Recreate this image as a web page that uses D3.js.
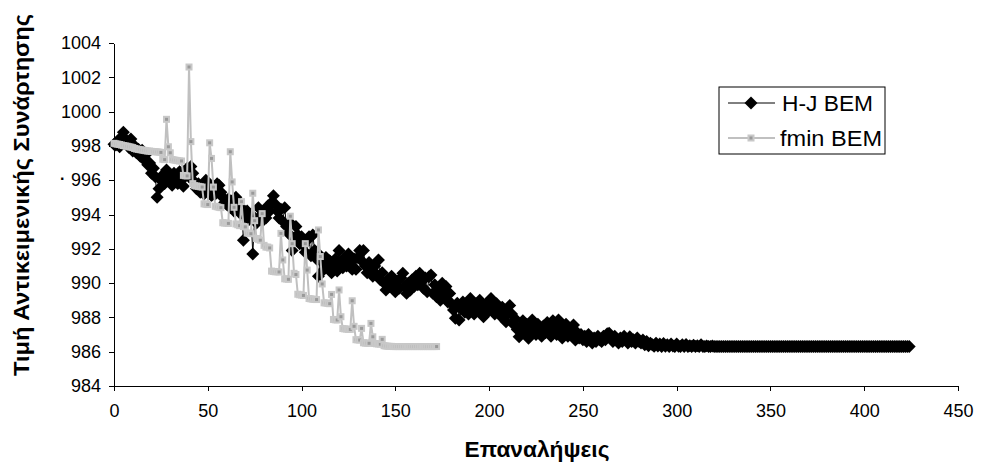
<!DOCTYPE html>
<html>
<head>
<meta charset="utf-8">
<script src="https://cdn.jsdelivr.net/npm/d3@7"></script>
<style>
  body { margin: 0; background: #fff; }
  svg { display: block; font-family: "Liberation Sans", Arial, sans-serif; }
  .tick text { font-size: 18px; fill: #000; }
  .axis path, .axis line { stroke: #000; stroke-width: 1; shape-rendering: crispEdges; }
  .title { font-weight: bold; font-size: 22px; fill: #000; }
  .legend text { font-size: 22px; fill: #000; }
</style>
</head>
<body>
<svg width="981" height="470"></svg>
<script>
var seriesNames = ["H-J BEM", "fmin BEM"];
var xTicks = [0, 50, 100, 150, 200, 250, 300, 350, 400, 450];
var yTicks = [984, 986, 988, 990, 992, 994, 996, 998, 1000, 1002, 1004];

// H-J BEM, one value per iteration (0..424)
var hjValues = [
  998.10, 998.05, 998.30, 997.95, 998.50, 998.80, 998.40, 998.20, 997.90, 998.40,
  997.70, 998.00, 997.60, 997.80, 997.40, 997.75, 997.20, 997.50, 996.90, 997.00,
  996.40, 996.70, 996.20, 995.00, 995.50, 996.00, 996.30, 995.80, 996.60, 996.20,
  995.90, 995.70, 996.40, 996.10, 995.80, 996.50, 996.00, 995.65, 996.30, 996.70,
  996.20, 996.80, 996.40, 995.90, 995.50, 995.80, 995.30, 995.60, 995.20, 996.00,
  995.40, 995.70, 995.10, 995.50, 995.20, 995.80, 995.70, 995.30, 995.00, 994.70,
  994.60, 994.90, 994.40, 994.80, 994.20, 995.00, 994.50, 994.10, 994.40, 992.50,
  993.90, 994.20, 993.70, 994.00, 991.70, 993.80, 993.50, 994.40, 993.90, 993.60,
  994.10, 993.80, 994.50, 994.20, 994.70, 995.10, 994.60, 994.20, 993.80, 994.30,
  993.60, 994.40, 993.30, 992.90, 993.50, 991.90, 992.60, 993.30, 992.80, 992.30,
  992.70, 992.20, 991.80, 992.50, 992.70, 991.60, 992.80, 991.90, 991.40, 990.40,
  991.60, 991.20, 990.80, 991.50, 990.90, 991.30, 990.60, 991.00, 991.40, 990.70,
  991.90, 991.20, 990.90, 991.50, 991.00, 991.70, 991.20, 990.80, 991.40, 990.80,
  991.50, 991.90, 991.30, 991.90, 991.00, 990.60, 991.20, 990.70, 990.40, 991.00,
  990.50, 991.35, 990.20, 990.60, 990.00, 989.60, 990.20, 989.80, 990.40, 989.90,
  989.50, 990.10, 989.70, 990.30, 990.57, 989.80, 989.40, 990.00, 989.60, 990.20,
  989.80, 990.40, 989.90, 990.57, 990.10, 989.70, 990.30, 989.50, 990.37, 990.47,
  989.40, 989.90, 989.20, 989.60, 989.00, 989.99, 989.30, 989.80, 988.90, 989.40,
  988.80, 988.43, 987.95, 988.82, 987.85, 988.50, 988.90, 988.30, 988.70, 988.20,
  989.10, 988.60, 988.20, 988.80, 988.40, 989.00, 988.50, 988.04, 988.70, 988.30,
  988.90, 989.10, 988.60, 988.20, 988.80, 988.40, 988.10, 988.60, 988.00, 987.75,
  988.30, 988.70, 988.20, 987.60, 987.90, 987.30, 986.87, 987.50, 987.80, 987.20,
  987.60, 986.78, 987.30, 987.85, 987.40, 987.00, 987.60, 987.20, 986.90, 987.50,
  987.10, 987.70, 987.30, 986.90, 987.80, 987.40, 987.00, 987.85, 987.30, 986.80,
  987.20, 987.60, 986.90, 987.30, 987.00, 987.56, 986.68, 987.10, 986.80, 987.00,
  986.70, 986.90, 986.60, 987.00, 986.70, 986.50, 986.80, 986.60, 986.90, 986.70,
  986.60, 986.90, 986.70, 987.05, 987.07, 986.80, 986.60, 986.90, 986.70, 986.50,
  986.80, 986.60, 986.90, 986.70, 986.50, 986.87, 986.60, 986.70, 986.50, 986.80,
  986.60, 986.50, 986.68, 986.40, 986.60, 986.35, 986.50, 986.40, 986.32, 986.50,
  986.33, 986.45, 986.30, 986.48, 986.32, 986.40, 986.30, 986.45, 986.33, 986.30,
  986.45, 986.32, 986.30, 986.40, 986.30, 986.42, 986.30, 986.35, 986.30, 986.38,
  986.30, 986.35, 986.30, 986.40, 986.30, 986.30, 986.34, 986.30, 986.30, 986.33,
  986.30, 986.30, 986.30, 986.30, 986.30, 986.30, 986.30, 986.30, 986.30, 986.30,
  986.30, 986.30, 986.30, 986.30, 986.30, 986.30, 986.30, 986.30, 986.30, 986.30,
  986.30, 986.30, 986.30, 986.30, 986.30, 986.30, 986.30, 986.30, 986.30, 986.30,
  986.30, 986.30, 986.30, 986.30, 986.30, 986.30, 986.30, 986.30, 986.30, 986.30,
  986.30, 986.30, 986.30, 986.30, 986.30, 986.30, 986.30, 986.30, 986.30, 986.30,
  986.30, 986.30, 986.30, 986.30, 986.30, 986.30, 986.30, 986.30, 986.30, 986.30,
  986.30, 986.30, 986.30, 986.30, 986.30, 986.30, 986.30, 986.30, 986.30, 986.30,
  986.30, 986.30, 986.30, 986.30, 986.30, 986.30, 986.30, 986.30, 986.30, 986.30,
  986.30, 986.30, 986.30, 986.30, 986.30, 986.30, 986.30, 986.30, 986.30, 986.30,
  986.30, 986.30, 986.30, 986.30, 986.30, 986.30, 986.30, 986.30, 986.30, 986.30,
  986.30, 986.30, 986.30, 986.30, 986.30
];

// fmin BEM, one value per iteration (0..172)
var fminValues = [
  998.15, 998.12, 998.10, 998.08, 998.05, 998.02, 998.00, 997.98, 997.95, 997.93,
  997.90, 997.85, 997.82, 997.80, 997.78, 997.76, 997.74, 997.72, 997.70, 997.70,
  997.68, 997.67, 997.66, 997.65, 997.64, 997.62, 997.22, 997.20, 999.55, 997.95,
  997.60, 997.20, 997.18, 997.16, 997.14, 997.12, 997.12, 996.28, 996.26, 996.25,
  1002.60, 998.25, 995.80, 995.68, 995.66, 995.64, 995.62, 995.60, 994.62, 994.60,
  994.58, 998.18, 997.27, 995.60, 994.48, 994.45, 994.42, 994.40, 993.52, 993.50,
  993.50, 993.48, 997.66, 995.90, 994.42, 993.45, 993.40, 993.35, 994.75, 993.30,
  993.28, 992.92, 992.90, 992.88, 995.24, 993.64, 992.60, 992.55, 992.50, 994.05,
  992.20, 992.10, 992.10, 992.05, 990.70, 990.68, 990.66, 990.66, 990.65, 992.90,
  991.35, 990.25, 990.24, 990.22, 993.90, 992.30, 990.57, 990.50, 989.35, 989.32,
  989.30, 989.28, 992.30, 990.76, 989.10, 989.08, 989.06, 989.05, 989.04, 993.10,
  991.55, 989.95, 988.85, 988.84, 988.82, 988.80, 989.34, 987.88, 987.86, 987.85,
  989.60, 988.04, 987.35, 987.33, 987.32, 987.30, 987.30, 988.97, 987.48, 986.70,
  986.69, 986.68, 987.36, 986.52, 986.50, 986.50, 986.49, 987.65, 986.87, 986.48,
  986.46, 986.45, 986.44, 986.72, 986.35, 986.33, 986.32, 986.31, 986.31, 986.30,
  986.30, 986.30, 986.30, 986.30, 986.30, 986.30, 986.30, 986.30, 986.30, 986.30,
  986.30, 986.30, 986.30, 986.30, 986.30, 986.30, 986.30, 986.30, 986.30, 986.30,
  986.30, 986.30, 986.30
];

var svg = d3.select("svg"),
    plot = {left: 114, right: 958, top: 43, bottom: 386};

var x = d3.scaleLinear().domain([0, 450]).range([plot.left, plot.right]);
var y = d3.scaleLinear().domain([984, 1004]).range([plot.bottom, plot.top]);

// Axes
svg.append("g")
    .attr("class", "axis")
    .attr("transform", "translate(0," + plot.bottom + ")")
    .call(d3.axisBottom(x).tickValues(xTicks).tickSize(5).tickSizeOuter(0).tickPadding(13))
    .selectAll("text").attr("dy", "0.71em");

svg.append("g")
    .attr("class", "axis")
    .attr("transform", "translate(" + plot.left + ",0)")
    .call(d3.axisLeft(y).tickValues(yTicks).tickSize(5).tickSizeOuter(0).tickPadding(8).tickFormat(d3.format("d")));

// Titles
svg.append("text")
    .attr("class", "title")
    .attr("transform", "translate(29," + 195 + ") rotate(-90)")
    .attr("text-anchor", "middle")
    .attr("textLength", 362)
    .attr("lengthAdjust", "spacingAndGlyphs")
    .text("Τιμή Αντικειμενικής Συνάρτησης");

svg.append("text")
    .attr("x", 60)
    .attr("y", 180)
    .attr("font-size", 16)
    .attr("font-weight", "bold")
    .text(".");

svg.append("text")
    .attr("class", "title")
    .attr("x", 537)
    .attr("y", 457)
    .attr("text-anchor", "middle")
    .attr("textLength", 145)
    .attr("lengthAdjust", "spacingAndGlyphs")
    .text("Επαναλήψεις");

// H-J BEM series
var seriesLine = d3.line()
    .x(function(d, i) { return x(i); })
    .y(function(d) { return y(d); });

svg.append("path")
    .datum(hjValues)
    .attr("fill", "none")
    .attr("stroke", "#000")
    .attr("stroke-width", 1)
    .attr("d", seriesLine);

var diamond = d3.symbol().type(d3.symbolSquare).size(84);

svg.append("g").selectAll("path")
    .data(hjValues)
    .join("path")
    .attr("transform", function(d, i) { return "translate(" + x(i) + "," + y(d) + ") rotate(45)"; })
    .attr("d", diamond)
    .attr("fill", "#000");

// fmin BEM series
svg.append("path")
    .datum(fminValues)
    .attr("fill", "none")
    .attr("stroke", "#c0c0c0")
    .attr("stroke-width", 2)
    .attr("d", seriesLine);

svg.append("g").selectAll("rect")
    .data(fminValues)
    .join("rect")
    .attr("x", function(d, i) { return x(i) - 2.5; })
    .attr("y", function(d) { return y(d) - 2.5; })
    .attr("width", 5)
    .attr("height", 5)
    .attr("fill", "#999")
    .attr("stroke", "#c8c8c8")
    .attr("stroke-width", 2);

// Legend
var legend = svg.append("g").attr("class", "legend").attr("transform", "translate(719,87)");

legend.append("rect")
    .attr("x", 0).attr("y", 0)
    .attr("width", 166).attr("height", 67)
    .attr("fill", "#fff")
    .attr("stroke", "#000")
    .attr("stroke-width", 1);

var hjItem = legend.append("g").attr("transform", "translate(0,16)");
hjItem.append("line").attr("x1", 9).attr("x2", 56).attr("stroke", "#000").attr("stroke-width", 1);
hjItem.append("path").attr("transform", "translate(32,0) rotate(45)").attr("d", diamond).attr("fill", "#000");
hjItem.append("text").attr("x", 63).attr("dy", "0.36em")
    .attr("textLength", 91).attr("lengthAdjust", "spacingAndGlyphs").text(seriesNames[0]);

var fminItem = legend.append("g").attr("transform", "translate(0,51)");
fminItem.append("line").attr("x1", 9).attr("x2", 56).attr("stroke", "#c0c0c0").attr("stroke-width", 2);
fminItem.append("rect").attr("x", 29.5).attr("y", -2.5).attr("width", 5).attr("height", 5)
    .attr("fill", "#999").attr("stroke", "#c8c8c8").attr("stroke-width", 2);
fminItem.append("text").attr("x", 61).attr("dy", "0.36em")
    .attr("textLength", 102).attr("lengthAdjust", "spacingAndGlyphs").text(seriesNames[1]);
</script>
</body>
</html>
